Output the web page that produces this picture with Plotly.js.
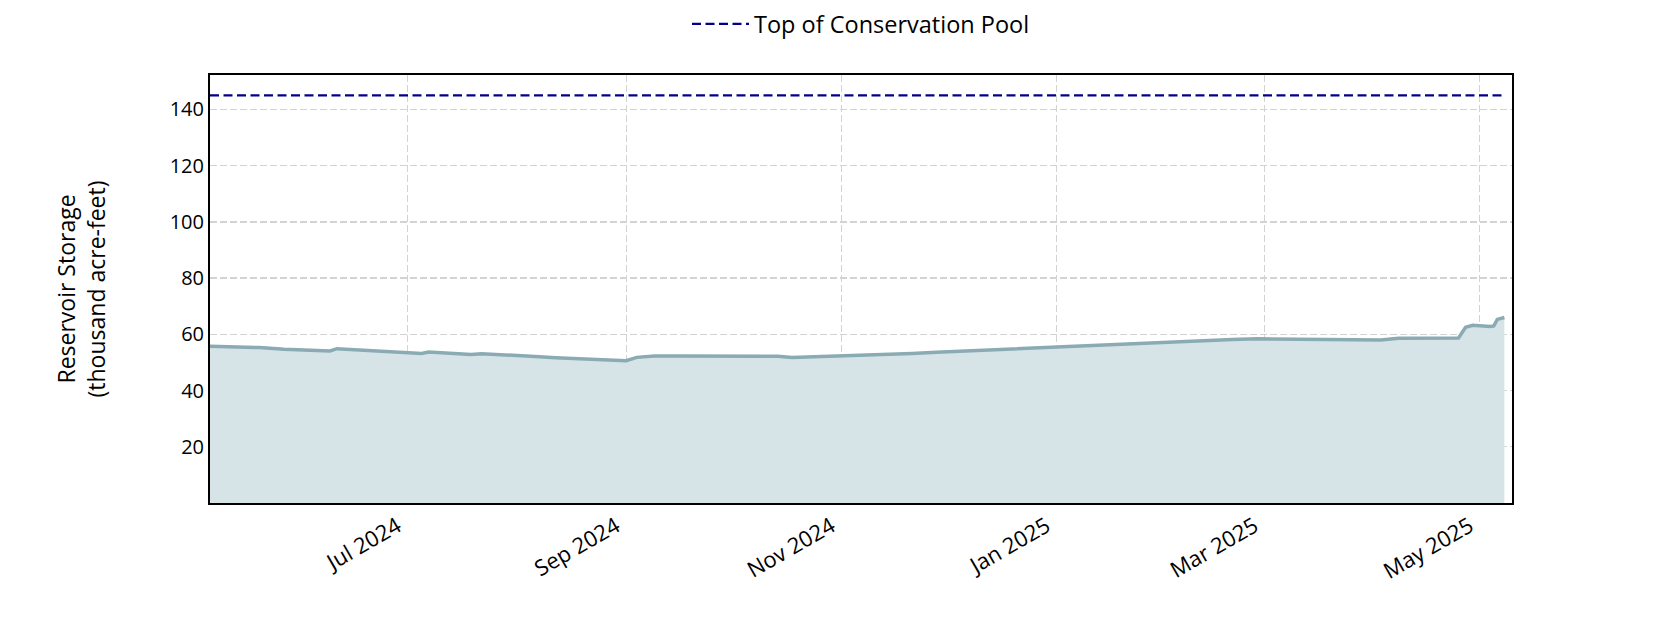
<!DOCTYPE html>
<html>
<head>
<meta charset="utf-8">
<script src="https://cdn.plot.ly/plotly-3.0.1.min.js"></script>
<style>html,body{margin:0;padding:0;background:#fff;}#chart{width:1680px;height:630px;}</style>
</head>
<body>
<div id="chart"></div>
<script>
const dates = [
  '2024-05-06','2024-05-13','2024-05-20','2024-05-27','2024-06-03','2024-06-09','2024-06-11','2024-06-17','2024-06-24',
  '2024-07-01','2024-07-05','2024-07-07','2024-07-14','2024-07-19','2024-07-22','2024-07-29','2024-08-05','2024-08-12',
  '2024-08-19','2024-08-26','2024-09-01','2024-09-04','2024-09-09','2024-09-16','2024-09-23','2024-09-30','2024-10-07',
  '2024-10-14','2024-10-18','2024-10-24','2024-10-31','2024-11-07','2024-11-14','2024-11-21','2024-11-28','2024-12-05',
  '2024-12-12','2024-12-19','2024-12-26','2025-01-02','2025-01-09','2025-01-16','2025-01-23','2025-01-30','2025-02-06',
  '2025-02-13','2025-02-20','2025-02-27','2025-03-06','2025-03-13','2025-03-20','2025-03-27','2025-04-03','2025-04-08',
  '2025-04-15','2025-04-22','2025-04-25','2025-04-27','2025-04-29','2025-05-04','2025-05-05','2025-05-06','2025-05-08'
];
const storage = [
  55.8,55.6,55.3,54.7,54.5,54.1,54.9,54.4,54.0,
  53.4,53.2,53.7,53.3,52.8,53.1,52.8,52.2,51.7,
  51.3,50.9,50.6,51.8,52.3,52.3,52.3,52.2,52.2,
  52.2,51.8,52.0,52.3,52.5,52.8,53.2,53.6,54.0,
  54.3,54.7,55.2,55.6,56.0,56.4,56.8,57.1,57.7,
  58.0,58.2,58.4,58.3,58.1,58.0,58.1,58.0,58.6,
  58.7,58.7,58.7,62.5,63.2,62.8,63.0,65.3,66.0
];
const conservationPool = 145;
const conservationLabel = 'Top of Conservation Pool';
const yTicks = [20, 40, 60, 80, 100, 120, 140];
const xRange = ['2024-05-06', '2025-05-10 04:00'];
const yRange = [0, 152.25];

const font = '"Open Sans", Lato, sans-serif';

const traces = [
  {
    x: dates, y: storage, type: 'scatter', mode: 'lines',
    line: {color: '#8aabb3', width: 3.5},
    fill: 'tozeroy', fillcolor: '#d6e4e7',
    showlegend: false, hoverinfo: 'x+y'
  },
  {
    x: [dates[0], dates[dates.length - 1]], y: [conservationPool, conservationPool],
    type: 'scatter', mode: 'lines', name: conservationLabel,
    line: {color: '#00008b', width: 2.2, dash: '9px,4.5px'}
  }
];

const layout = {
  width: 1680, height: 630,
  paper_bgcolor: '#ffffff', plot_bgcolor: '#ffffff',
  margin: {l: 210, r: 168, t: 75, b: 127},
  font: {family: font, size: 21, color: '#000'},
  showlegend: true,
  legend: {orientation: 'h', xref: 'paper', x: 0.5, xanchor: 'center', yref: 'container', y: 1 - 24 / 630, yanchor: 'middle',
           itemwidth: 57,
           font: {family: font, size: 23.5, color: '#000'}, bgcolor: 'rgba(0,0,0,0)'},
  xaxis: {
    type: 'date', range: xRange, automargin: false,
    tick0: '2024-07-01', dtick: 'M2', tickformat: '%b %Y', tickangle: -30,
    ticklabelshift: -10,
    showgrid: true, gridcolor: '#d3d3d3', gridwidth: 1.3, griddash: '7px,3px',
    showline: true, linecolor: '#000', linewidth: 2, mirror: true,
    ticks: '', zeroline: false,
    tickfont: {family: font, size: 22, color: '#000'}
  },
  yaxis: {
    range: yRange, tickvals: yTicks,
    showgrid: true, gridcolor: '#d3d3d3', gridwidth: 1.3, griddash: '7px,3px',
    showline: true, linecolor: '#000', linewidth: 2, mirror: true,
    ticks: '', zeroline: false, automargin: false,
    tickfont: {family: font, size: 20, color: '#000'},
    title: {text: 'Reservoir Storage<br>(thousand acre-feet)', font: {family: font, size: 23, color: '#000'}, standoff: 58}
  }
};

Plotly.newPlot('chart', traces, layout, {displayModeBar: false, staticPlot: true});
</script>
</body>
</html>
